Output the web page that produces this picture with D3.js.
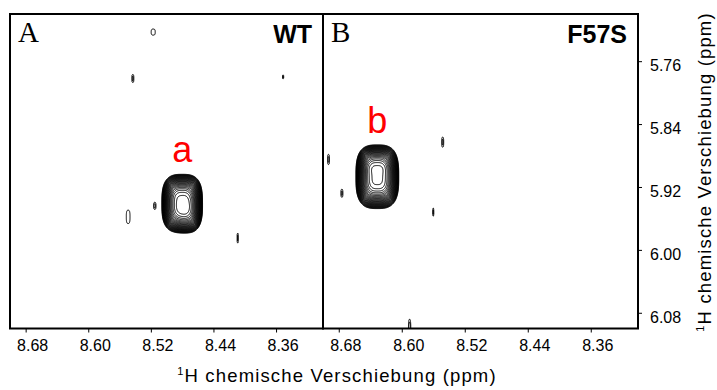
<!DOCTYPE html>
<html>
<head>
<meta charset="utf-8">
<script src="https://cdn.jsdelivr.net/npm/d3@7"></script>
<style>
  body { margin: 0; background: #fff; }
  svg { display: block; font-family: Arial, "Liberation Sans", sans-serif; }
</style>
</head>
<body>
<svg width="717" height="390"></svg>
<script>
const panelLetters = ['A', 'B'];
const panelTags = ['WT', 'F57S'];
const peakLabels = ['a', 'b'];
const xTicks = [8.68, 8.60, 8.52, 8.44, 8.36];
const yTicks = [5.76, 5.84, 5.92, 6.00, 6.08];
const xDomain = [8.70, 8.30];
const yDomain = [5.70, 6.10];

// peaks: [1H x ppm, 1H y ppm, width x, width y, height]; first one is the labelled peak
const peaksWT = [
  [8.480, 5.941, 0.0168, 0.0240, 100],
  [8.474, 5.952, 0.0120, 0.0180, 12],
  [8.517, 5.723, 0.0049, 0.0073, 2.9],
  [8.543, 5.782, 0.0023, 0.0090, 3.0],
  [8.351, 5.780, 0.0014, 0.0045, 3.0],
  [8.515, 5.944, 0.0027, 0.0079, 3.0],
  [8.549, 5.958, 0.0045, 0.0160, 2.9],
  [8.409, 5.985, 0.0014, 0.0113, 3.0]
];
const peaksF57S = [
  [8.631, 5.907, 0.0176, 0.0262, 100],
  [8.632, 5.888, 0.0150, 0.0120, 10],
  [8.693, 5.885, 0.0023, 0.0113, 3.0],
  [8.676, 5.928, 0.0023, 0.0090, 3.0],
  [8.548, 5.863, 0.0023, 0.0113, 3.0],
  [8.560, 5.952, 0.0014, 0.0090, 3.0],
  [8.590, 6.102, 0.0024, 0.0220, 3.2]
];
const contourLevels = [2.5, 2.9, 3.3, 3.8, 4.4, 5.0, 5.8, 6.7, 7.7, 8.8, 10.1,
  11.6, 13.4, 15.4, 17.7, 20.3, 23.4, 26.9, 30.9, 35.5, 40.9, 47.0, 54.1,
  62.2, 71.5, 82.2, 94.6];

const svg = d3.select('svg');
const plotTop = 14, plotBottom = 328.5;
const panelX = [[10, 323], [323, 638]];
const allPeaks = [peaksWT, peaksF57S];

const y = d3.scaleLinear().domain(yDomain).range([plotTop, plotBottom]);

const nx = 640, ny = 640;
const gx = d3.scaleLinear().domain([0, nx]).range(xDomain);
const gy = d3.scaleLinear().domain([0, ny]).range(yDomain);

function spectrum(peaks) {
  const values = new Float64Array(nx * ny);
  for (let j = 0; j < ny; j++) {
    const py = gy(j + 0.5);
    for (let i = 0; i < nx; i++) {
      const px = gx(i + 0.5);
      let v = 0;
      for (const p of peaks) {
        const u = Math.abs((px - p[0]) / p[2]);
        const w = Math.abs((py - p[1]) / p[3]);
        const e = u * u * u + w * w * w;
        if (e < 30) v += p[4] * Math.exp(-e);
      }
      values[i + j * nx] = v;
    }
  }
  return values;
}

const defs = svg.append('defs');

panelX.forEach((range, k) => {
  const x = d3.scaleLinear().domain(xDomain).range(range);
  const peaks = allPeaks[k];

  defs.append('clipPath').attr('id', 'clip' + k)
    .append('rect')
    .attr('x', range[0]).attr('y', plotTop)
    .attr('width', range[1] - range[0]).attr('height', plotBottom - plotTop);

  const proj = d3.geoTransform({
    point: function (px, py) { this.stream.point(x(gx(px)), y(gy(py))); }
  });
  const path = d3.geoPath(proj);

  const contours = d3.contours().size([nx, ny]).thresholds(contourLevels)(spectrum(peaks));

  svg.append('g')
    .attr('clip-path', `url(#clip${k})`)
    .selectAll('path')
    .data(contours)
    .join('path')
    .attr('d', path)
    .attr('fill', 'none')
    .attr('stroke', '#000')
    .attr('stroke-width', 1);

  // frame
  svg.append('rect')
    .attr('x', range[0]).attr('y', plotTop)
    .attr('width', range[1] - range[0]).attr('height', plotBottom - plotTop)
    .attr('fill', 'none').attr('stroke', '#000').attr('stroke-width', 2);

  // bottom axis
  const ax = svg.append('g')
    .attr('transform', `translate(0,${plotBottom})`)
    .call(d3.axisBottom(x).tickValues(xTicks).tickFormat(d3.format('.2f')).tickSize(4).tickPadding(7));
  ax.select('.domain').remove();
  ax.selectAll('text').attr('font-size', 16).attr('font-family', 'Arial, "Liberation Sans", sans-serif')
    .attr('dx', 6.5).attr('fill', '#000');

  svg.append('text')
    .attr('x', range[0] + 8).attr('y', plotTop + 28)
    .attr('font-family', '"Liberation Serif", "Times New Roman", serif')
    .attr('font-size', 29)
    .text(panelLetters[k]);

  svg.append('text')
    .attr('x', range[1] - 11).attr('y', plotTop + 29)
    .attr('text-anchor', 'end')
    .attr('font-weight', 'bold')
    .attr('font-size', 25)
    .text(panelTags[k]);

  const main = peaks[0];
  svg.append('text')
    .attr('x', x(main[0])).attr('y', y(main[1] - main[3] * 1.6) - 11)
    .attr('text-anchor', 'middle')
    .attr('fill', '#ff0000')
    .attr('font-size', 36)
    .text(peakLabels[k]);
});

// right axis
const ay = svg.append('g')
  .attr('transform', `translate(${panelX[1][1]},0)`)
  .call(d3.axisRight(y).tickValues(yTicks).tickFormat(d3.format('.2f')).tickSize(4).tickPadding(8));
ay.select('.domain').remove();
ay.selectAll('text').attr('font-size', 16).attr('font-family', 'Arial, "Liberation Sans", sans-serif')
  .attr('dy', '0.59em').attr('fill', '#000');

function axisTitle(sel) {
  sel.attr('font-size', 18.5).attr('letter-spacing', 1.15).attr('text-anchor', 'middle');
  sel.append('tspan').attr('font-size', 11).attr('dy', -7).text('1');
  sel.append('tspan').attr('dy', 7).text('H chemische Verschiebung (ppm)');
}

svg.append('text')
  .attr('x', 337).attr('y', 382)
  .call(axisTitle);

svg.append('text')
  .attr('transform', `translate(711,172) rotate(-90)`)
  .call(axisTitle);
</script>
</body>
</html>
